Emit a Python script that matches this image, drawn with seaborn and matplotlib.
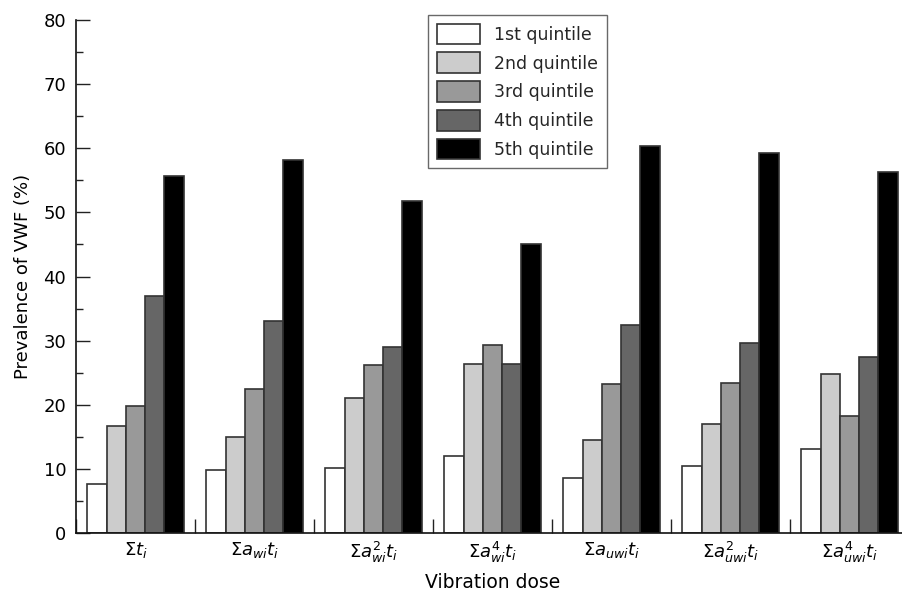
import numpy as np
import pandas as pd
import matplotlib
matplotlib.use('Agg')
import matplotlib.pyplot as plt
import seaborn as sns
from matplotlib.ticker import MultipleLocator, FixedLocator

doses = [r'$\Sigma t_i$', r'$\Sigma a_{wi}t_i$', r'$\Sigma a^{2}_{wi}t_i$', r'$\Sigma a^{4}_{wi}t_i$',
         r'$\Sigma a_{uwi}t_i$', r'$\Sigma a^{2}_{uwi}t_i$', r'$\Sigma a^{4}_{uwi}t_i$']
quintiles = ['1st quintile', '2nd quintile', '3rd quintile', '4th quintile', '5th quintile']
q1 = [7.7, 9.8, 10.2, 12.0, 8.6, 10.5, 13.1]
q2 = [16.7, 15.0, 21.0, 26.3, 14.5, 17.0, 24.8]
q3 = [19.8, 22.4, 26.2, 29.3, 23.2, 23.4, 18.3]
q4 = [37.0, 33.0, 29.0, 26.3, 32.5, 29.7, 27.4]
q5 = [55.6, 58.2, 51.8, 45.1, 60.4, 59.3, 56.3]
colors = ['#ffffff', '#cccccc', '#999999', '#666666', '#000000']

rows = []
for qn, vals in zip(quintiles, [q1, q2, q3, q4, q5]):
    for d, v in zip(doses, vals):
        rows.append({'dose': d, 'quintile': qn, 'value': v})
df = pd.DataFrame(rows)

sns.set_style('ticks')
plt.rcParams['font.family'] = ['DejaVu Sans']
plt.rcParams['mathtext.fontset'] = 'dejavusans'

fig = plt.figure(figsize=(9.02, 5.95), dpi=100)
ax = fig.add_axes([76 / 902, 62 / 595, 833 / 902, 513 / 595])

sns.barplot(data=df, x='dose', y='value', hue='quintile', order=doses, hue_order=quintiles,
            palette=colors, width=0.81, gap=0, edgecolor='#333333', linewidth=1.2,
            saturation=1, ax=ax)

ax.set_ylim(0, 80)
ax.set_xlim(-0.5, 6.5)
ax.yaxis.set_major_locator(MultipleLocator(10))
ax.yaxis.set_minor_locator(MultipleLocator(5))
ax.tick_params(axis='y', which='major', direction='in', length=10, width=1, labelsize=13, pad=7,
               color='#222222', labelcolor='black')
ax.tick_params(axis='y', which='minor', direction='in', length=5, width=1, color='#222222')
ax.xaxis.set_minor_locator(FixedLocator(np.arange(-0.5, 7, 1)))
ax.tick_params(axis='x', which='major', length=0, labelsize=13, pad=5, labelcolor='black')
ax.tick_params(axis='x', which='minor', direction='in', length=10, width=1, color='#222222')
for s in ['top', 'right']:
    ax.spines[s].set_visible(False)
for s in ['left', 'bottom']:
    ax.spines[s].set_linewidth(1.2)
    ax.spines[s].set_color('#111111')

ax.set_ylabel('Prevalence of VWF (%)', fontsize=13, labelpad=8, color='black')
ax.set_xlabel('Vibration dose', fontsize=13.5, color='black')
ax.xaxis.set_label_coords(0.5, -0.078)

leg = ax.legend(loc='upper left', bbox_to_anchor=(352 / 833, 1.0097), fontsize=12.5,
                frameon=True, fancybox=False, edgecolor='#444444', handlelength=2.5,
                handleheight=1.45, labelspacing=0.47, borderpad=0.5, handletextpad=0.8,
                borderaxespad=0)
leg.get_frame().set_linewidth(1)

fig.savefig('out.png', dpi=100)
